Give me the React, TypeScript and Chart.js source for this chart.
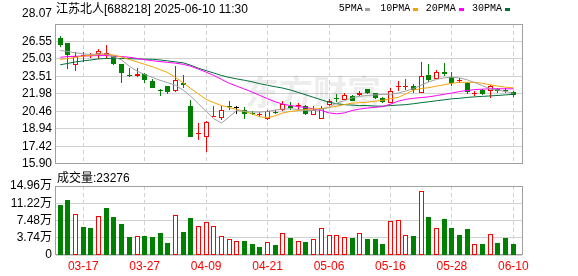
import React, { useEffect, useRef } from "react";
import { Chart, registerables } from "chart.js";

Chart.register(...registerables);

const stockName = "江苏北人";
const stockCode = "688218";
const stamp = "2025-06-10 11:30";
const volumeTitle = "成交量";
const lastVolume = 23276;

const dates = [
  "03-12", "03-13", "03-14", "03-17", "03-18", "03-19", "03-20", "03-21", "03-24", "03-25",
  "03-26", "03-27", "03-28", "03-31", "04-01", "04-02", "04-03", "04-07", "04-08", "04-09",
  "04-10", "04-11", "04-14", "04-15", "04-16", "04-17", "04-18", "04-21", "04-22", "04-23",
  "04-24", "04-25", "04-28", "04-29", "04-30", "05-06", "05-07", "05-08", "05-09", "05-12",
  "05-13", "05-14", "05-15", "05-16", "05-19", "05-20", "05-21", "05-22", "05-23", "05-26",
  "05-27", "05-28", "05-29", "05-30", "06-03", "06-04", "06-05", "06-06", "06-09", "06-10",
];
const xTickLabels = ["03-17", "03-27", "04-09", "04-21", "05-06", "05-16", "05-28", "06-10"];

const openP = [
  26.83, 26.38, 24.54, 25.28, 25.25, 25.45, 25.41, 25.28, 24.63, 23.63,
  23.5, 23.7, 23.14, 22.28, 22.66, 22.23, 22.94, 20.97, 18.53, 18.2,
  20.01, 19.92, 20.94, 20.77, 20.6, 20.26, 20.14, 19.76, 20.37, 20.6,
  20.97, 20.92, 20.92, 20.18, 19.84, 21.02, 21.62, 21.47, 21.81, 21.87,
  22.4, 22.04, 21.67, 21.19, 22.61, 22.61, 22.66, 22.06, 23.59, 23.27,
  23.88, 23.44, 23.14, 22.94, 21.98, 22.36, 22.28, 22.43, 22.32, 22.15,
];
const highP = [
  27.03, 26.4, 25.62, 25.62, 25.53, 25.9, 26.23, 25.32, 24.63, 24.2,
  24.26, 23.78, 23.25, 22.38, 22.7, 24.43, 23.65, 21.45, 19.42, 19.61,
  20.97, 20.97, 21.33, 20.97, 20.82, 20.48, 20.4, 20.6, 20.54, 21.33,
  21.24, 21.16, 21.01, 20.91, 20.91, 21.53, 21.95, 22.09, 21.85, 22.23,
  22.4, 22.09, 21.68, 22.51, 23.08, 23.27, 22.83, 24.77, 24.6, 24.04,
  24.64, 23.93, 23.36, 23.0, 22.23, 22.43, 22.72, 22.53, 22.49, 22.23,
];
const lowP = [
  26.04, 24.18, 23.98, 24.77, 25.11, 25.03, 25.03, 24.49, 22.94, 23.42,
  23.46, 22.94, 22.49, 21.81, 22.01, 22.19, 22.51, 18.2, 18.0, 16.96,
  19.98, 19.7, 20.6, 20.26, 19.84, 20.12, 19.98, 19.7, 20.25, 20.5,
  20.54, 20.6, 20.16, 20.12, 19.78, 20.91, 21.24, 21.43, 21.35, 21.81,
  21.98, 21.53, 21.22, 21.18, 22.23, 22.32, 22.04, 22.02, 23.0, 23.25,
  23.54, 22.66, 22.94, 21.95, 21.81, 21.87, 21.67, 22.02, 22.06, 21.7,
];
const closeP = [
  26.23, 25.36, 25.25, 25.36, 25.39, 25.68, 25.56, 24.63, 23.78, 23.56,
  23.7, 23.22, 22.51, 22.23, 22.17, 23.22, 22.74, 18.22, 18.57, 19.5,
  20.06, 20.54, 20.82, 20.77, 20.26, 20.22, 20.18, 20.46, 20.33, 21.07,
  20.77, 20.97, 20.2, 20.58, 20.77, 21.35, 21.56, 21.91, 21.39, 22.04,
  22.04, 21.67, 21.24, 22.23, 22.66, 22.66, 22.32, 23.56, 23.16, 23.88,
  23.73, 22.91, 23.19, 22.15, 22.04, 21.95, 22.66, 22.28, 22.28, 21.85,
];

const ma5 = [
  25.76, 25.68, 25.56, 25.47, 25.42, 25.47, 25.45, 25.19, 24.94, 24.39,
  23.97, 23.67, 23.42, 23.17, 22.96, 22.74, 22.32, 21.77, 21.13, 20.46,
  19.83, 19.44, 19.99, 20.54, 20.46, 20.41, 20.4, 20.46, 20.58, 20.67,
  20.69, 20.63, 20.54, 20.54, 20.63, 20.82, 21.18, 21.39, 21.64, 21.77,
  21.85, 21.9, 21.94, 21.95, 22.06, 22.23, 22.45, 22.74, 23.04, 23.25,
  23.38, 23.44, 23.38, 23.21, 22.96, 22.7, 22.4, 22.32, 22.19, 22.04,
];
const ma10 = [
  24.98, 25.07, 25.17, 25.28, 25.34, 25.41, 25.45, 25.36, 25.19, 24.98,
  24.77, 24.56, 24.35, 24.1, 23.84, 23.42, 22.96, 22.45, 21.98, 21.51,
  21.22, 20.97, 20.8, 20.63, 20.46, 20.25, 19.99, 19.91, 20.08, 20.33,
  20.46, 20.54, 20.63, 20.67, 20.71, 20.8, 20.92, 21.05, 21.18, 21.22,
  21.26, 21.35, 21.43, 21.56, 21.68, 21.98, 22.32, 22.45, 22.53, 22.66,
  22.78, 22.91, 22.99, 22.99, 22.99, 22.91, 22.78, 22.66, 22.57, 22.51,
];
const ma20 = [
  25.17, 25.24, 25.26, 25.28, 25.3, 25.32, 25.32, 25.28, 25.24, 25.17,
  25.07, 24.96, 24.87, 24.8, 24.73, 24.66, 24.56, 24.39, 24.14, 23.88,
  23.59, 23.25, 22.91, 22.66, 22.4, 22.15, 21.85, 21.56, 21.3, 21.09,
  20.97, 20.88, 20.8, 20.67, 20.54, 20.33, 20.25, 20.33, 20.54, 20.67,
  20.75, 20.82, 20.88, 21.09, 21.35, 21.51, 21.6, 21.67, 21.73, 21.84,
  21.95, 22.06, 22.19, 22.28, 22.36, 22.4, 22.43, 22.43, 22.43, 22.43,
];
const ma30 = [
  24.52, 24.64, 24.77, 24.86, 24.94, 25.03, 25.07, 25.08, 25.07, 25.05,
  25.03, 25.01, 25.0, 24.94, 24.86, 24.77, 24.69, 24.48, 24.22, 24.01,
  23.8, 23.59, 23.42, 23.29, 23.17, 23.04, 22.87, 22.74, 22.61, 22.49,
  22.32, 22.11, 21.9, 21.68, 21.47, 21.26, 21.13, 21.05, 21.01, 20.97,
  20.97, 20.92, 20.92, 20.97, 21.01, 21.05, 21.13, 21.22, 21.3, 21.39,
  21.47, 21.56, 21.6, 21.68, 21.73, 21.77, 21.81, 21.85, 21.9, 21.95,
];

// volume in 万 (10k shares)
const volume = [
  10.86, 11.94, 8.85, 6.11, 5.89, 8.42, 10.21, 8.27, 6.76, 3.95,
  4.17, 4.17, 3.95, 4.81, 2.66, 8.63, 5.03, 8.05, 6.26, 7.19,
  6.26, 4.1, 3.52, 3.09, 3.09, 2.45, 1.79, 2.81, 2.22, 4.75,
  3.73, 3.02, 2.87, 3.45, 5.83, 4.32, 4.32, 3.89, 3.73, 4.75,
  3.52, 3.52, 2.45, 7.4, 7.62, 4.32, 4.17, 13.82, 8.27, 5.83,
  7.84, 5.89, 4.38, 5.68, 2.37, 2.37, 4.53, 2.66, 3.73, 2.33,
];
const volUp = [
  0, 0, 1, 0, 0, 1, 0, 0, 0, 0,
  1, 0, 0, 0, 0, 1, 0, 0, 1, 1,
  1, 1, 1, 1, 0, 0, 0, 1, 0, 1,
  0, 1, 0, 1, 1, 1, 1, 1, 0, 1,
  0, 0, 0, 1, 1, 1, 0, 1, 0, 1,
  0, 0, 0, 0, 1, 0, 1, 0, 0, 0,
];

const priceTicks = [15.9, 17.42, 18.94, 20.46, 21.98, 23.51, 25.03, 26.55, 28.07];
const volTicks = [0, 3.74, 7.48, 11.22, 14.96];

const maNames = ["5PMA", "10PMA", "20PMA", "30PMA"];
const maColors = ["#a0a0a0", "#f5a300", "#ff00ff", "#00703a"];

const RED = "#ff0000";
const GREEN = "#008000";
const BLACK = "#000000";
const GRID = "#d2d2d2";
const FRAME = "#a0a0a0";
const FONT = "'Liberation Sans', 'Noto Sans CJK SC', sans-serif";

const X_MIN = -0.55;
const X_MAX = 60.13;

function makeFrame(withMark: boolean) {
  return {
    id: "frame" + (withMark ? "P" : "V"),
    afterDatasetsUpdate(chart: any) {
      // snap library-computed bar geometry to whole pixels for crisp outlines
      chart.data.datasets.forEach((_: any, i: number) => {
        const meta = chart.getDatasetMeta(i);
        if (meta.type !== "bar") return;
        meta.data.forEach((el: any) => {
          el.x = Math.floor(el.x) + 0.5;
          el.y = Math.round(el.y);
          el.base = Math.round(el.base);
        });
      });
    },
    beforeDatasetsDraw(chart: any) {
      const { ctx, chartArea: a } = chart;
      ctx.save();
      if (withMark) {
        ctx.font = "bold 34px 'Noto Sans CJK SC'";
        ctx.fillStyle = "rgba(0,0,0,0.07)";
        ctx.textBaseline = "middle";
        ctx.fillText("东方财富", 245, 92);
      }
      ctx.strokeStyle = FRAME;
      ctx.lineWidth = 1;
      const l = Math.round(a.left) - 0.5;
      const t = Math.round(a.top) + 0.5;
      const r = Math.round(a.right) + 0.5;
      const b = Math.round(a.bottom) - 0.5;
      ctx.strokeRect(l, t, r - l, b - t);
      ctx.restore();
    },
  };
}

export default function App() {
  const priceRef = useRef<HTMLCanvasElement>(null);
  const volRef = useRef<HTMLCanvasElement>(null);

  useEffect(() => {
    Chart.defaults.font.family = FONT;
    Chart.defaults.color = "#000";
    const tickIdx = xTickLabels.map((l) => dates.indexOf(l));
    const dir = closeP.map((c, i) => (c > openP[i] ? 1 : c < openP[i] ? -1 : 0));
    const candleColor = dir.map((d) => (d > 0 ? RED : d < 0 ? GREEN : BLACK));
    const bodyFill = dir.map((d) => (d > 0 ? "#ffffff" : d < 0 ? GREEN : BLACK));
    const mas = [ma5, ma10, ma20, ma30];

    const xScale = (showLabels: boolean, h: number) => ({
      type: "linear",
      min: X_MIN,
      max: X_MAX,
      offset: false,
      afterBuildTicks: (s: any) => {
        s.ticks = tickIdx.map((v) => ({ value: v }));
      },
      ticks: {
        display: showLabels,
        autoSkip: false,
        maxRotation: 0,
        padding: 4,
        color: RED,
        font: { family: FONT, size: 12 },
        callback: (v: number) => dates[Math.round(v)] ?? "",
      },
      grid: { color: GRID, drawTicks: false, offset: false, borderDash: [4, 3] },
      border: { display: false, dash: [4, 3] },
      afterFit: (s: any) => {
        s.height = h;
      },
    });

    const price = new Chart(priceRef.current as HTMLCanvasElement, {
      type: "bar",
      data: {
        datasets: [
          ...mas.map((m, k) => ({
            type: "line",
            label: maNames[k],
            data: m.map((v, i) => ({ x: i, y: v })),
            borderColor: maColors[k],
            borderWidth: 1,
            pointRadius: 0,
            tension: 0,
            order: 0,
          })),
          {
            type: "bar",
            label: "body",
            data: openP.map((o, i) => ({ x: i, y: [o, closeP[i]] })),
            backgroundColor: bodyFill,
            borderColor: candleColor,
            borderWidth: 1,
            borderSkipped: false,
            barThickness: 5,
            minBarLength: 1,
            grouped: false,
            inflateAmount: 0,
            order: 2,
          },
          {
            type: "bar",
            label: "wick",
            data: lowP.map((l, i) => ({ x: i, y: [l, highP[i]] })),
            backgroundColor: candleColor,
            borderWidth: 0,
            barThickness: 1,
            grouped: false,
            inflateAmount: 0,
            order: 3,
          },
        ] as any,
      },
      options: {
        animation: false,
        responsive: false,
        maintainAspectRatio: false,
        events: [],
        layout: { padding: { top: 21, right: 56, left: 0, bottom: 0 } },
        plugins: { legend: { display: false }, tooltip: { enabled: false } },
        scales: {
          x: xScale(false, 10) as any,
          y: {
            type: "linear",
            min: priceTicks[0],
            max: priceTicks[priceTicks.length - 1],
            beginAtZero: false,
            afterBuildTicks: (s: any) => {
              s.ticks = priceTicks.map((v) => ({ value: v }));
            },
            ticks: {
              autoSkip: false,
              padding: 4,
              color: "#000",
              font: (ctx: any) => ({
                family: FONT,
                size: 12,
                lineHeight: ctx.index === priceTicks.length - 1 ? "20px" : 1.2,
              }),
              callback: (v: any, i: number) => {
                const s = Number(v).toFixed(2);
                return i === priceTicks.length - 1 ? [s, ""] : s;
              },
            },
            grid: { color: GRID, drawTicks: false },
            border: { display: false },
            afterFit: (s: any) => {
              s.width = 56;
            },
          } as any,
        },
      },
      plugins: [makeFrame(true)],
    });

    const vol = new Chart(volRef.current as HTMLCanvasElement, {
      type: "bar",
      data: {
        datasets: [
          {
            label: volumeTitle,
            data: volume.map((v, i) => ({ x: i, y: v })),
            backgroundColor: volUp.map((u) => (u ? "#ffffff" : GREEN)),
            borderColor: volUp.map((u) => (u ? RED : GREEN)),
            borderWidth: 1,
            borderSkipped: false,
            barThickness: 5,
            inflateAmount: 0,
            grouped: false,
          },
        ] as any,
      },
      options: {
        animation: false,
        responsive: false,
        maintainAspectRatio: false,
        events: [],
        layout: { padding: { top: 16, right: 56, left: 0, bottom: 0 } },
        plugins: { legend: { display: false }, tooltip: { enabled: false } },
        scales: {
          x: xScale(true, 21) as any,
          y: {
            type: "linear",
            min: volTicks[0],
            max: volTicks[volTicks.length - 1],
            afterBuildTicks: (s: any) => {
              s.ticks = volTicks.map((v) => ({ value: v }));
            },
            ticks: {
              autoSkip: false,
              padding: 4,
              color: "#000",
              font: { family: FONT, size: 12 },
              callback: (v: any) => (Number(v) === 0 ? "0" : Number(v).toFixed(2) + "万"),
            },
            grid: { color: GRID, drawTicks: false },
            border: { display: false },
            afterFit: (s: any) => {
              s.width = 56;
            },
          } as any,
        },
      },
      plugins: [makeFrame(false)],
    });

    return () => {
      price.destroy();
      vol.destroy();
    };
  }, []);

  const legendLeft = [338.7, 380.3, 425.7, 472];
  const swatchLeft = [365.3, 413, 458.7, 504.7];

  return (
    <div
      style={{
        position: "absolute",
        left: 0,
        top: 0,
        width: 578,
        height: 276,
        background: "#fff",
        overflow: "hidden",
      }}
    >
      <canvas ref={priceRef} width={578} height={175} style={{ position: "absolute", left: 0, top: 0 }} />
      <canvas ref={volRef} width={578} height={106} style={{ position: "absolute", left: 0, top: 170 }} />
      <div
        style={{
          position: "absolute",
          left: 56,
          top: 2,
          font: `12px ${FONT}`,
          lineHeight: "14px",
          whiteSpace: "nowrap",
          color: "#000",
        }}
      >
        {`${stockName}[${stockCode}] ${stamp}`}
      </div>
      {maNames.map((n, k) => (
        <React.Fragment key={n}>
          <div
            style={{
              position: "absolute",
              left: legendLeft[k],
              top: 3,
              font: "10px 'Liberation Mono', monospace",
              lineHeight: "12px",
              whiteSpace: "nowrap",
              color: "#000",
            }}
          >
            {n}
          </div>
          <div
            style={{
              position: "absolute",
              left: swatchLeft[k],
              top: 8,
              width: 5,
              height: 3,
              background: maColors[k],
            }}
          />
        </React.Fragment>
      ))}
      <div
        style={{
          position: "absolute",
          left: 57,
          top: 171,
          font: `12px ${FONT}`,
          lineHeight: "14px",
          whiteSpace: "nowrap",
          color: "#000",
        }}
      >
        {`${volumeTitle}:${lastVolume}`}
      </div>
    </div>
  );
}
